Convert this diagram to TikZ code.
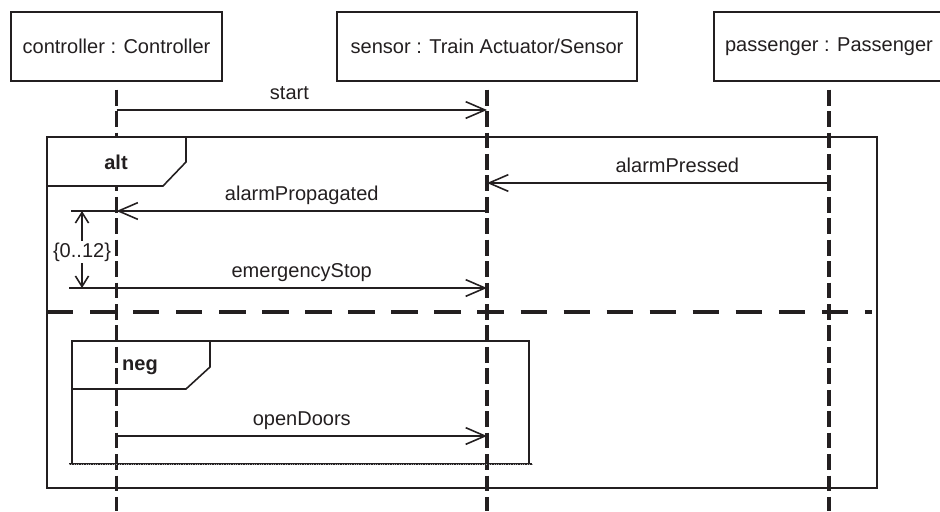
\documentclass[tikz,border=0pt]{standalone}
\usepackage{fontspec}
\setmainfont{Liberation Sans}
\usetikzlibrary{arrows.meta,positioning}
\definecolor{ink}{RGB}{35,31,32}

\begin{document}
\begin{tikzpicture}[
x=0.02cm,
y=-0.02cm,
color=ink,
font=\fontsize{11.4}{13.6}\selectfont,
object/.style={
  draw,
  line width=0.9pt,
  minimum height=1.38cm,
  inner sep=0pt
  },
lifeline/.style={
  line width=1.9pt,
  dash pattern=on 9pt off 3.2pt
  },
msg/.style={
  line width=0.9pt,
  -{Straight Barb[length=11pt,width=9.5pt,line width=0.9pt]}
  },
msglabel/.style={
  midway,
  anchor=base,
  yshift=6pt
  },
frame/.style={line width=0.9pt},
guard/.style={
  line width=2.1pt,
  dash pattern=on 15pt off 9.5pt
  },
tag/.style={font=\fontsize{11.4}{13.6}\selectfont\bfseries},
tick/.style={
  line width=0.9pt,
  -{Straight Barb[length=6pt,width=7.5pt,line width=0.9pt]}
  }
]
\useasboundingbox (0,0) rectangle (940,511);

% objects and their lifelines
\node[object, minimum width=4.22cm] (ctrl) at (116.5,46.5) {controller : Controller};
\node[object, minimum width=6cm] (sensor) at (487,46.5) {sensor : Train Actuator/Sensor};
\node[object, minimum width=4.6cm] (pass) at (829,46.5) {passenger : Passenger};

\coordinate (end) at (0,511);
\foreach \o in {ctrl,sensor,pass}
  \draw[lifeline] ([yshift=-4.5pt]\o.south) -- (\o.south |- end);

% message levels
\coordinate (y-start) at (0,110);
\coordinate (y-press) at (0,183);
\coordinate (y-prop) at (0,211);
\coordinate (y-stop) at (0,288);
\coordinate (y-open) at (0,436);

\draw[msg] (ctrl |- y-start) -- node[msglabel, xshift=-7pt] {start} (sensor |- y-start);

% alt fragment
\draw[frame] (47,137) rectangle (877,488);
\filldraw[frame, fill=white] (47,137) -- (47,186) -- (163,186) -- (186,162) -- (186,137) -- cycle;
\node[tag] (alt) at (116,162) {alt};
\draw[guard] (47,312) -- (872,312);

\draw[msg] (pass |- y-press) -- node[msglabel, xshift=11pt] {alarmPressed} (sensor |- y-press);
\draw[msg] (sensor |- y-prop) -- node[msglabel] {alarmPropagated} (ctrl |- y-prop);
\draw[msg] (ctrl |- y-stop) -- node[msglabel] {emergencyStop} (sensor |- y-stop);

% duration constraint
\node[inner sep=1pt] (dur) at (82,252) {\{0..12\}};
\coordinate (d-top) at (71,211);
\coordinate (d-bot) at (69,288);
\draw[frame] (d-top) -- (ctrl |- d-top);
\draw[frame] (d-bot) -- (ctrl |- d-bot);
\draw[tick] (dur.north) -- (dur.north |- d-top);
\draw[tick] (dur.south) -- (dur.south |- d-bot);

% neg fragment
\draw[frame] (72,464) -- (72,341) -- (529,341) -- (529,464);
\draw[frame] (72,389) -- (186,389) -- (210,367) -- (210,341);
\draw[line width=1.4pt] (69,464) -- (532,464);
\draw[gray!70, line width=0.35pt, densely dotted] (69,464) -- (532,464);
\node[tag] (neg) at (140,367) {neg};

\draw[msg] (ctrl |- y-open) -- node[msglabel] {openDoors} (sensor |- y-open);
\end{tikzpicture}
\end{document}
